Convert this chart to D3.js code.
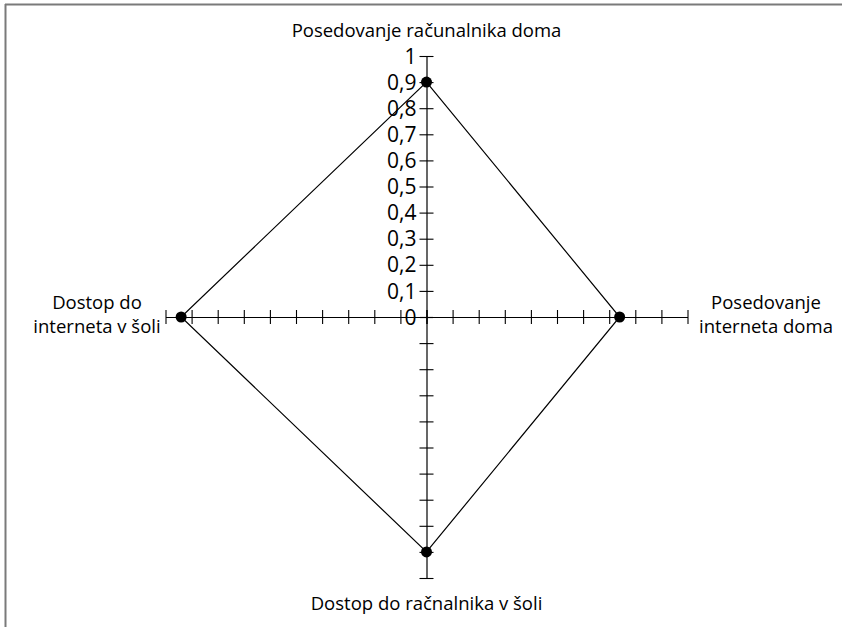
<!DOCTYPE html>
<html>
<head>
<meta charset="utf-8">
<script src="https://cdn.jsdelivr.net/npm/d3@7/dist/d3.min.js"></script>
<style>
  html, body { margin: 0; padding: 0; background: #fff; }
  svg { display: block; }
  text { font-family: "Open Sans", "Noto Sans", sans-serif; fill: #000; }
</style>
</head>
<body>
<svg id="chart" width="842" height="627"></svg>
<script>
// Axis names, clockwise from the top
const axisNames = [
  ["Posedovanje računalnika doma"],
  ["Posedovanje", "interneta doma"],
  ["Dostop do račnalnika v šoli"],
  ["Dostop do", "interneta v šoli"]
];
// Values along each axis (top, right, bottom, left)
const values = [0.9, 0.74, 0.9, 0.94];
// Tick values and their printed labels on the upper axis
const tickValues = [0, 0.1, 0.2, 0.3, 0.4, 0.5, 0.6, 0.7, 0.8, 0.9, 1];
const tickLabels = ["0", "0,1", "0,2", "0,3", "0,4", "0,5", "0,6", "0,7", "0,8", "0,9", "1"];

const svg = d3.select("#chart");
const cx = 426.5, cy = 317, R = 261, tick = 7;

// Frame (top and left edges)
svg.append("line").attr("x1", 5).attr("y1", 4.5).attr("x2", 842).attr("y2", 4.5)
  .attr("stroke", "#7a7a7a").attr("stroke-width", 2);
svg.append("line").attr("x1", 5.5).attr("y1", 4).attr("x2", 5.5).attr("y2", 627)
  .attr("stroke", "#7a7a7a").attr("stroke-width", 2);

// One scale per direction
const up = d3.scaleLinear().domain([0, 1]).range([cy, cy - R]);
const down = d3.scaleLinear().domain([0, 1]).range([cy, cy + R]);
const right = d3.scaleLinear().domain([0, 1]).range([cx, cx + R]);
const left = d3.scaleLinear().domain([0, 1]).range([cx, cx - R]);

function styleAxis(g, vertical) {
  g.select(".domain").attr("stroke", "#000").attr("stroke-width", 1.2);
  g.selectAll(".tick line")
    .attr("stroke", "#000").attr("stroke-width", 1.1)
    .attr(vertical ? "x1" : "y1", -tick)
    .attr(vertical ? "x2" : "y2", tick);
}

const fmt = d => tickLabels[tickValues.indexOf(d)];

const gUp = svg.append("g").attr("transform", `translate(${cx},0)`)
  .call(d3.axisLeft(up).tickValues(tickValues).tickFormat(fmt).tickSize(tick).tickPadding(3).tickSizeOuter(0));
styleAxis(gUp, true);
gUp.attr("font-size", 21).attr("font-family", "'Open Sans', sans-serif");
gUp.selectAll(".tick text").attr("fill", "#000").attr("dy", "0.34em");

const gDown = svg.append("g").attr("transform", `translate(${cx},0)`)
  .call(d3.axisLeft(down).tickValues(tickValues).tickFormat("").tickSize(tick).tickSizeOuter(0));
styleAxis(gDown, true);

const gRight = svg.append("g").attr("transform", `translate(0,${cy})`)
  .call(d3.axisBottom(right).tickValues(tickValues).tickFormat("").tickSize(tick).tickSizeOuter(0));
styleAxis(gRight, false);

const gLeft = svg.append("g").attr("transform", `translate(0,${cy})`)
  .call(d3.axisBottom(left).tickValues(tickValues).tickFormat("").tickSize(tick).tickSizeOuter(0));
styleAxis(gLeft, false);

// Data polygon
const pts = [
  [cx, up(values[0])],
  [right(values[1]), cy],
  [cx, down(values[2])],
  [left(values[3]), cy]
];
svg.append("path")
  .attr("d", d3.line()(pts) + "Z")
  .attr("fill", "none").attr("stroke", "#000").attr("stroke-width", 1.2);
svg.selectAll("circle.pt").data(pts).join("circle")
  .attr("class", "pt")
  .attr("cx", d => d[0]).attr("cy", d => d[1]).attr("r", 5.5).attr("fill", "#000");

// Axis names
const nameFont = 18.5;
const namePos = [
  { x: cx, y: 37 },
  { x: 766, y: 309 },
  { x: cx, y: 610 },
  { x: 97, y: 309 }
];
axisNames.forEach((lines, i) => {
  const t = svg.append("text")
    .attr("x", namePos[i].x).attr("y", namePos[i].y)
    .attr("text-anchor", "middle").attr("font-size", nameFont);
  lines.forEach((s, j) => {
    t.append("tspan").attr("x", namePos[i].x).attr("dy", j === 0 ? 0 : 24).text(s);
  });
});
</script>
</body>
</html>
